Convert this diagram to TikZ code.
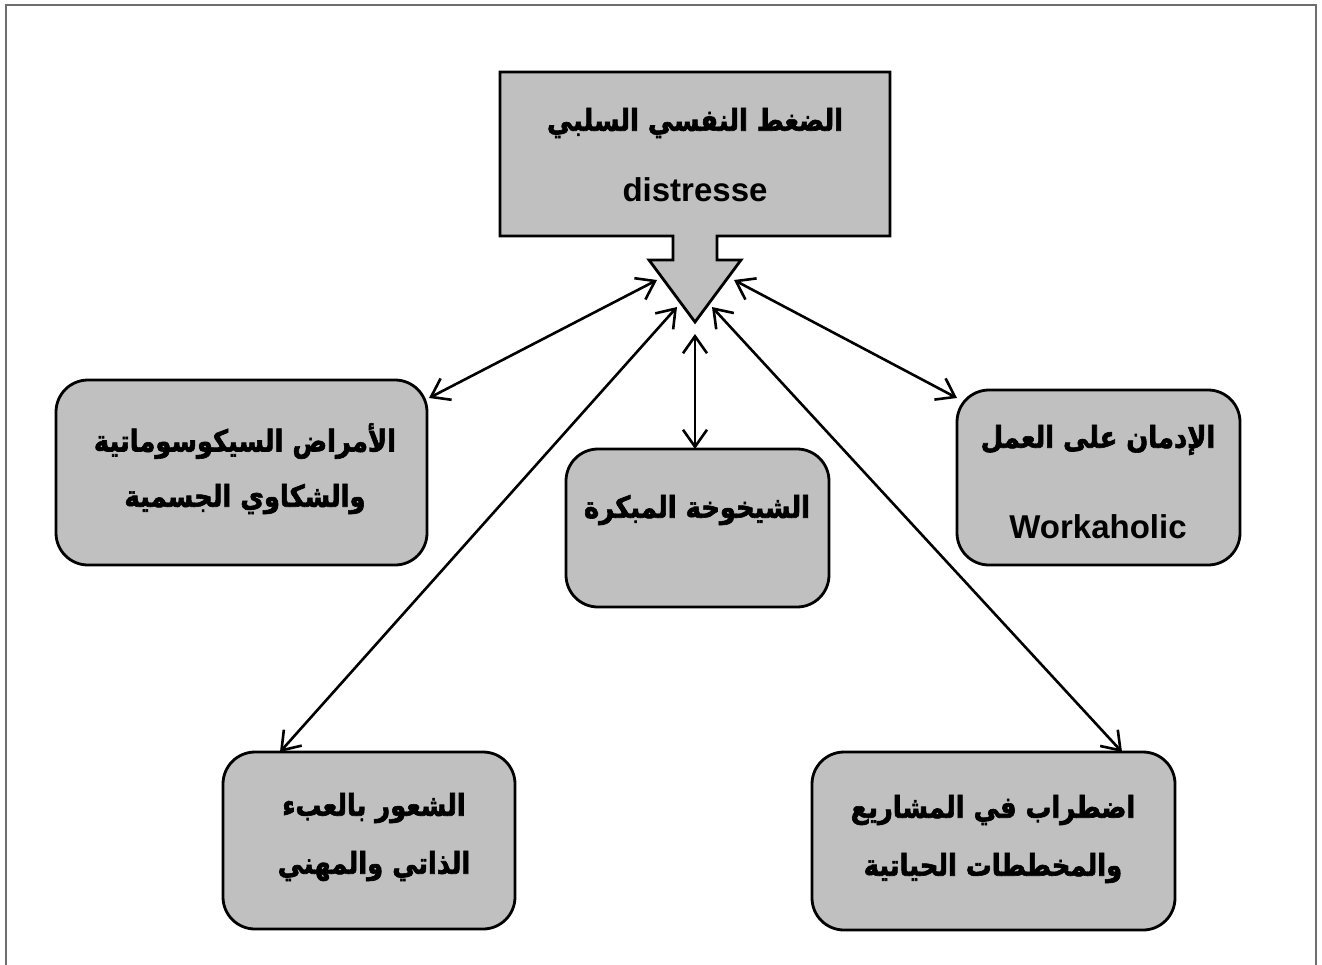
\documentclass[tikz,border=0pt]{standalone}
\usepackage{fontspec}
\setmainfont{Liberation Sans}
\newfontfamily\arabicfont[Script=Arabic, FakeStretch=0.86, BoldFeatures={FakeBold=2}]{DejaVu Sans}
\TeXXeTstate=1
\usetikzlibrary{arrows.meta}
\definecolor{boxgray}{HTML}{C0C0C0}
\definecolor{framegray}{HTML}{6E6E6E}

\begin{document}
\begin{tikzpicture}[x=1pt,y=-1pt,
  box/.style={draw=black, line width=2.8pt, fill=boxgray, rounded corners=32pt,
    inner sep=0pt, outer sep=0pt},
  barb/.tip={Straight Barb[length=17pt,width=24pt,line width=2.6pt]},
  link/.style={line width=2.6pt, barb-barb},
  ar/.style={font=\arabicfont\bfseries\fontsize{30}{36}\selectfont, inner sep=0pt},
  lat/.style={font=\bfseries\fontsize{33}{40}\selectfont, inner sep=0pt}]

\useasboundingbox (0,0) rectangle (1322,964);

% page frame
\draw[framegray, line width=2pt] (6,970) -- (6,5) -- (1316,5) -- (1316,970);

% top box merged with its downward arrow
\draw[line width=2.8pt, fill=boxgray, line join=miter]
  (500,72) -- (890,72) -- (890,236) -- (717,236) -- (717,260) -- (741,260)
  -- (695,322) -- (649,260) -- (673,260) -- (673,236) -- (500,236) -- cycle;
\node[ar] (topA) at (695,123) {\beginR الضغط النفسي السلبي\endR};
\node[lat] (topB) at (695,190) {distresse};

% arrow-head ends of the connectors
\coordinate (hA) at (657,280);
\coordinate (hB) at (677,307);
\coordinate (hC) at (695,334);
\coordinate (hD) at (712,307);
\coordinate (hE) at (734,280);

% outcome boxes
\node[box, minimum width=371pt, minimum height=185pt] (psy) at (241.5,472.5) {};
\node[ar] (psyA) at (245,441) {\beginR الأمراض السيكوسوماتية\endR};
\node[ar] (psyB) at (245,499) {\beginR والشكاوي الجسمية\endR};

\node[box, minimum width=283pt, minimum height=175pt] (work) at (1098.5,477.5) {};
\node[ar] (workA) at (1098,440) {\beginR الإدمان على العمل\endR};
\node[lat] (workB) at (1098,527) {Workaholic};

\node[box, minimum width=263pt, minimum height=158pt] (aging) at (697.5,528) {};
\node[ar] (agingA) at (697,510) {\beginR الشيخوخة المبكرة\endR};

\node[box, minimum width=292pt, minimum height=177pt] (fatigue) at (369,840.5) {};
\node[ar] (fatA) at (374,808) {\beginR الشعور بالعبء\endR};
\node[ar] (fatB) at (374,866) {\beginR الذاتي والمهني\endR};

\node[box, minimum width=363pt, minimum height=178pt] (plans) at (993.5,841) {};
\node[ar] (plA) at (993,810) {\beginR اضطراب في المشاريع\endR};
\node[ar] (plB) at (993,868) {\beginR والمخططات الحياتية\endR};

% box-side ends of the connectors
\coordinate (eA) at (429,398);
\coordinate (eB) at (280,752);
\coordinate (eC) at (695,449);
\coordinate (eD) at (1122,752);
\coordinate (eE) at (957,398);

% two-way connectors
\draw[link] (hA) -- (eA);
\draw[link] (hB) -- (eB);
\draw[link] (hC) -- (eC);
\draw[link] (hD) -- (eD);
\draw[link] (hE) -- (eE);
\end{tikzpicture}
\end{document}
